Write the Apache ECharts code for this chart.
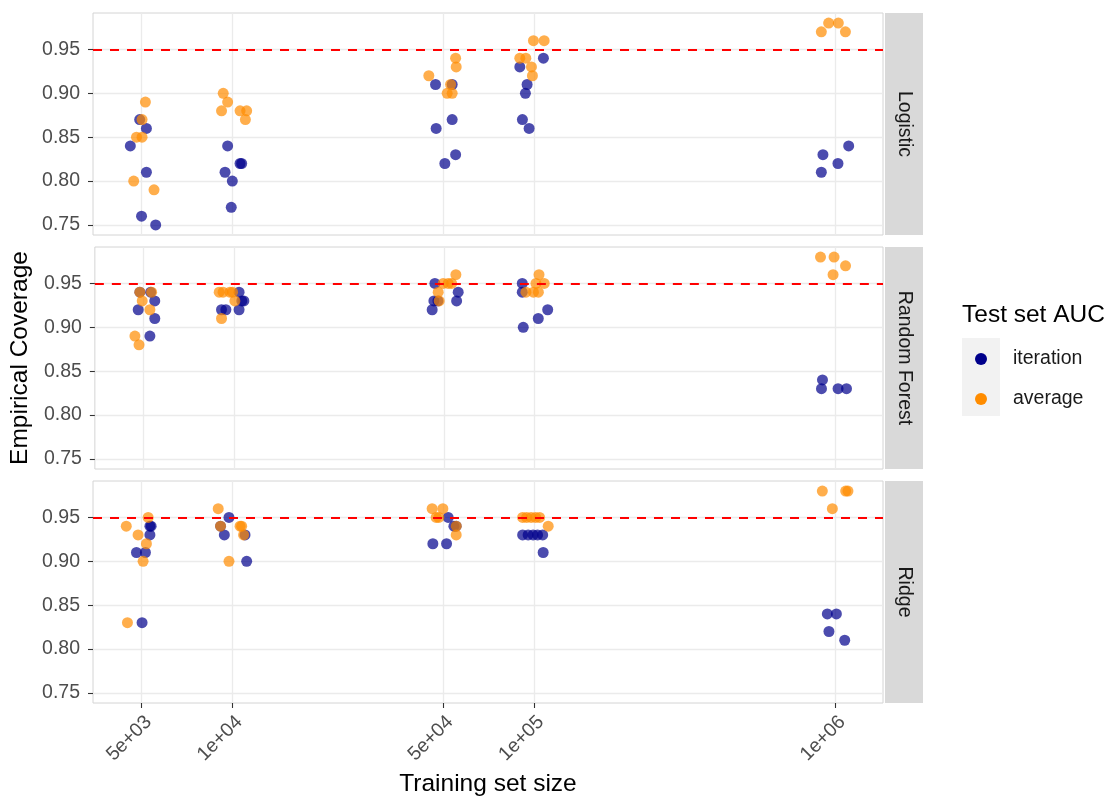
<!DOCTYPE html>
<html>
<head>
<meta charset="utf-8">
<title>Empirical coverage by training set size</title>
<script src="https://cdn.jsdelivr.net/npm/echarts@6/dist/echarts.min.js"></script>
<style>
  html, body { margin: 0; padding: 0; background: #ffffff; }
  #chart { width: 1112px; height: 799px; }
</style>
</head>
<body>
<div id="chart"></div>
<script>
// Facet labels (one panel per model) and the two AUC summaries
const models = ['Logistic', 'Random Forest', 'Ridge'];
const aucTypes = ['iteration', 'average'];

// Axis breaks
const sizeTicks = [5000, 10000, 50000, 100000, 1000000];
const sizeTickLabels = ['5e+03', '1e+04', '5e+04', '1e+05', '1e+06'];
const coverageTicks = [0.75, 0.80, 0.85, 0.90, 0.95];
const targetCoverage = 0.95;

// [training set size (jittered), empirical coverage]
const logisticIteration = [
  [4930, 0.87], [5190, 0.86], [4590, 0.84], [5190, 0.81], [5000, 0.76], [5570, 0.75],
  [9650, 0.84], [10610, 0.82], [10740, 0.82], [9460, 0.81], [10000, 0.80], [9920, 0.77],
  [47210, 0.91], [53600, 0.91], [53600, 0.87], [47430, 0.86], [55030, 0.83], [50690, 0.82],
  [107600, 0.94], [89840, 0.93], [95000, 0.91], [93770, 0.90], [91650, 0.87], [96470, 0.86],
  [1107000, 0.84], [909500, 0.83], [1020000, 0.82], [898400, 0.81]
];
const logisticAverage = [
  [5150, 0.89], [5020, 0.87], [4810, 0.85], [5020, 0.85], [4710, 0.80], [5500, 0.79],
  [9330, 0.90], [9650, 0.89], [9210, 0.88], [10610, 0.88], [11160, 0.88], [11050, 0.87],
  [44850, 0.92], [55030, 0.94], [55280, 0.93], [52950, 0.91], [51590, 0.90], [53600, 0.90],
  [99700, 0.96], [108200, 0.96], [89840, 0.94], [94060, 0.94], [98180, 0.93], [98930, 0.92],
  [898400, 0.97], [950000, 0.98], [1023000, 0.98], [1080000, 0.97]
];
const forestIteration = [
  [4870, 0.94], [5290, 0.94], [5460, 0.93], [4810, 0.92], [5460, 0.91], [5260, 0.89],
  [10410, 0.94], [10800, 0.93], [10630, 0.93], [9100, 0.92], [9410, 0.92], [10410, 0.92],
  [46600, 0.95], [55700, 0.94], [46250, 0.93], [47690, 0.93], [55030, 0.93], [45640, 0.92],
  [90950, 0.95], [90950, 0.94], [91650, 0.90], [102800, 0.91], [110500, 0.92],
  [905300, 0.84], [898400, 0.83], [1020000, 0.83], [1088000, 0.83]
];
const forestAverage = [
  [4870, 0.94], [5330, 0.94], [4960, 0.93], [5260, 0.92], [4690, 0.89], [4840, 0.88],
  [8940, 0.94], [9210, 0.94], [9700, 0.94], [9900, 0.94], [10080, 0.93], [9100, 0.91],
  [54720, 0.96], [49660, 0.95], [51590, 0.95], [52950, 0.95], [47790, 0.94], [48160, 0.93],
  [103400, 0.96], [101000, 0.95], [107600, 0.95], [93560, 0.94], [99080, 0.94], [102900, 0.94],
  [891700, 0.98], [989300, 0.98], [1080000, 0.97], [981800, 0.96]
];
const ridgeIteration = [
  [5330, 0.94], [5380, 0.94], [5330, 0.93], [4810, 0.91], [5150, 0.91], [5020, 0.83],
  [9750, 0.95], [9140, 0.94], [9410, 0.93], [11020, 0.93], [11160, 0.90],
  [51990, 0.95], [55280, 0.94], [54310, 0.94], [46250, 0.92], [51350, 0.92],
  [91790, 0.93], [95730, 0.93], [99470, 0.93], [102900, 0.93], [107000, 0.93], [107400, 0.91],
  [940600, 0.84], [1008000, 0.84], [952200, 0.82], [1074000, 0.81]
];
const ridgeAverage = [
  [5260, 0.95], [4450, 0.94], [4870, 0.93], [5190, 0.92], [5060, 0.90], [4490, 0.83],
  [8980, 0.96], [9140, 0.94], [10610, 0.94], [10740, 0.94], [10900, 0.93], [9750, 0.90],
  [46000, 0.96], [49920, 0.96], [47430, 0.95], [48410, 0.95], [55280, 0.94], [55280, 0.93],
  [91790, 0.95], [94640, 0.95], [97950, 0.95], [101400, 0.95], [104500, 0.95], [111600, 0.94],
  [905300, 0.98], [1082000, 0.98], [1101000, 0.98], [977300, 0.96]
];

const panelData = [
  [logisticIteration, logisticAverage],
  [forestIteration, forestAverage],
  [ridgeIteration, ridgeAverage]
];

const typeColors = ['#00008B', '#FF8C00'];
const FONT = '"Liberation Sans", Arial, sans-serif';

// Layout of the three stacked panels
const plotLeft = 93, plotWidth = 790, panelHeight = 222;
const panelTops = [13, 247, 481];
const stripX = 885, stripWidth = 38;

// Training size is shown on a log10 scale
const log10 = v => Math.log10(v);
const logTicks = sizeTicks.map(log10);
const xMin = 3.538, xMax = 6.158;
const yMin = 0.7385, yMax = 0.9915;

function sizeLabel(v) {
  let best = 0;
  logTicks.forEach((t, i) => { if (Math.abs(t - v) < Math.abs(logTicks[best] - v)) best = i; });
  return sizeTickLabels[best];
}

const grids = panelTops.map(top => ({
  left: plotLeft, top: top, width: plotWidth, height: panelHeight,
  show: true, borderColor: '#d4d4d4', borderWidth: 1, backgroundColor: 'transparent'
}));

const xAxes = panelTops.map((_, i) => {
  const isBottom = i === panelTops.length - 1;
  return {
    type: 'value', gridIndex: i, min: xMin, max: xMax,
    axisLine: { show: false },
    axisTick: { show: isBottom, customValues: logTicks, length: 5, lineStyle: { color: '#333333', width: 1.1 } },
    axisLabel: {
      show: isBottom, customValues: logTicks, rotate: 45, margin: 9,
      align: 'right', verticalAlign: 'top',
      fontSize: 19.5, color: '#4d4d4d', fontFamily: FONT,
      formatter: v => sizeLabel(v)
    },
    splitLine: { show: true, lineStyle: { color: '#ebebeb', width: 1.3 } },
    name: isBottom ? 'Training set size' : '',
    nameLocation: 'middle', nameGap: 69,
    nameTextStyle: { fontSize: 24.5, color: '#000000', fontFamily: FONT }
  };
});

const yAxes = panelTops.map((_, i) => ({
  type: 'value', gridIndex: i, min: yMin, max: yMax,
  axisLine: { show: false },
  axisTick: { show: true, customValues: coverageTicks, length: 5, lineStyle: { color: '#333333', width: 1.1 } },
  axisLabel: {
    customValues: coverageTicks, margin: 13,
    fontSize: 19.5, color: '#4d4d4d', fontFamily: FONT,
    formatter: v => v.toFixed(2)
  },
  splitLine: { show: true, lineStyle: { color: '#ebebeb', width: 1.3 } },
  name: i === 1 ? 'Empirical Coverage' : '',
  nameLocation: 'middle', nameGap: 57, nameRotate: 90,
  nameTextStyle: { fontSize: 24.5, color: '#000000', fontFamily: FONT }
}));

const series = [];
// Reference coverage line in every panel
panelTops.forEach((_, i) => {
  series.push({
    type: 'scatter', name: 'target', xAxisIndex: i, yAxisIndex: i,
    data: [], silent: true, z: 1,
    markLine: {
      silent: true, symbol: 'none', animation: false,
      label: { show: false },
      lineStyle: { color: '#ff0000', type: [9, 8], width: 1.9 },
      data: [{ yAxis: targetCoverage }]
    }
  });
});
// Points: iteration first, average drawn over it
aucTypes.forEach((type, t) => {
  panelData.forEach((pair, i) => {
    series.push({
      type: 'scatter', name: type, xAxisIndex: i, yAxisIndex: i, z: 2 + t,
      symbol: 'circle', symbolSize: 11,
      itemStyle: { color: typeColors[t], opacity: 0.7 },
      emphasis: { disabled: true },
      data: pair[t].map(([size, cov]) => [log10(size), cov])
    });
  });
});

// Facet strips on the right of each panel
const graphics = [];
panelTops.forEach((top, i) => {
  graphics.push({
    type: 'rect', left: stripX, top: top, silent: true,
    shape: { width: stripWidth, height: panelHeight },
    style: { fill: '#d9d9d9' }
  });
  graphics.push({
    type: 'text', x: stripX + stripWidth / 2, y: top + panelHeight / 2,
    rotation: -Math.PI / 2, silent: true,
    style: {
      text: models[i], fill: '#1a1a1a', fontSize: 19.5, fontFamily: FONT,
      align: 'center', verticalAlign: 'middle'
    }
  });
});
// Legend title and key background
graphics.push({
  type: 'text', x: 962, y: 315, silent: true,
  style: { text: 'Test set AUC', fill: '#000000', fontSize: 24.5, fontFamily: FONT, align: 'left', verticalAlign: 'middle' }
});
graphics.push({
  type: 'rect', left: 962, top: 338, silent: true, z: -1,
  shape: { width: 38, height: 78 },
  style: { fill: '#f2f2f2' }
});

const chart = echarts.init(document.getElementById('chart'), null, { renderer: 'canvas' });
chart.setOption({
  animation: false,
  backgroundColor: '#ffffff',
  textStyle: { fontFamily: FONT },
  grid: grids,
  xAxis: xAxes,
  yAxis: yAxes,
  legend: {
    data: aucTypes, orient: 'vertical', left: 970, top: 344,
    icon: 'circle', itemWidth: 12, itemHeight: 12, itemGap: 20,
    selectedMode: false,
    itemStyle: { opacity: 1 },
    textStyle: { fontSize: 19.5, color: '#1a1a1a', fontFamily: FONT, lineHeight: 20, padding: [0, 0, 0, 21] }
  },
  graphic: graphics,
  series: series
});
</script>
</body>
</html>
